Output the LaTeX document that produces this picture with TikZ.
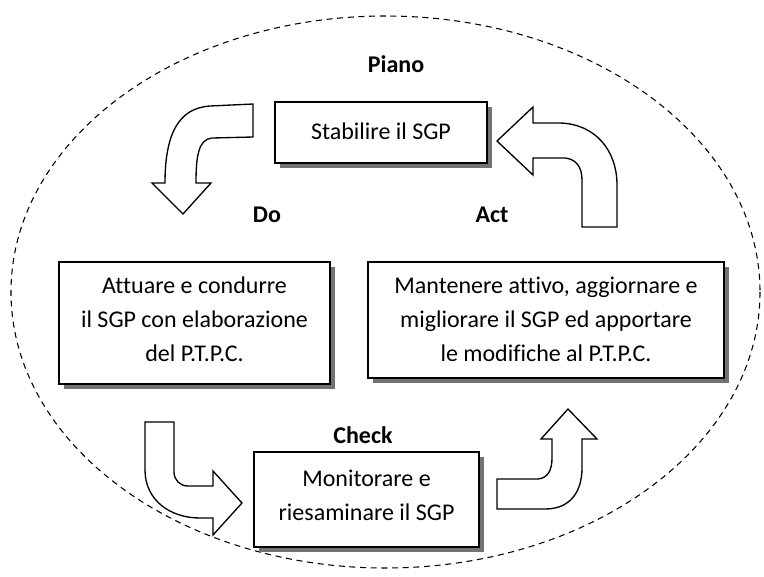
\documentclass[tikz,border=0pt]{standalone}
\usepackage{fontspec}
\setmainfont{Carlito}[Ligatures=NoCommon]
\usetikzlibrary{shadows}
\begin{document}
\begin{tikzpicture}[x=0.75pt,y=-0.75pt,
  box/.style={draw=black, line width=1.1pt, fill=white, inner sep=0pt,
    drop shadow={shadow xshift=3.5pt, shadow yshift=-3.5pt, fill=black!55, opacity=1}},
  boxtext/.style={inner sep=0pt, align=center, font=\fontsize{18}{25.5}\selectfont},
  lbl/.style={font=\fontsize{18}{22}\selectfont\bfseries, inner sep=0pt},
  blockarrow/.style={draw=black, line width=1pt, fill=white, line join=miter},
]
\useasboundingbox (0,0) rectangle (764,576);
% dashed ellipse
\draw[line width=0.8pt, dash pattern=on 4.5pt off 3.5pt] (385.5,292) ellipse [x radius=374.5, y radius=276];

% boxes
\node[box, minimum width=159pt, minimum height=45.75pt] (plan) at (381,132.5) {};
\node[boxtext] (plantext) at (381,131) {Stabilire il SGP};
\node[box, minimum width=203.25pt, minimum height=91.5pt] (do) at (194.5,323) {};
\node[boxtext] (dotext) at (194.5,319) {Attuare e condurre\\il SGP con elaborazione\\del P.T.P.C.};
\node[box, minimum width=267pt, minimum height=87pt] (act) at (546,320) {};
\node[boxtext] (acttext) at (546,319) {Mantenere attivo, aggiornare e\\migliorare il SGP ed apportare\\le modifiche al P.T.P.C.};
\node[box, minimum width=168.75pt, minimum height=71.25pt] (check) at (366.5,499.5) {};
\node[boxtext] (checktext) at (366.5,495) {Monitorare e\\riesaminare il SGP};

% labels
\node[lbl] (lpiano) at (396,64) {Piano};
\node[lbl] (ldo) at (267,215) {Do};
\node[lbl] (lact) at (492,215) {Act};
\node[lbl] (lcheck) at (363,435) {Check};

% arrow 1: Plan -> Do
\draw[blockarrow] (253,104) -- (210,106) .. controls (178,108) and (165,135) .. (165,183)
  -- (152,183) -- (183,214) -- (211,183) -- (196,183)
  .. controls (196,158) and (198,139) .. (212,138) -- (253,137) -- cycle;
% arrow 2: Act -> Plan
\draw[blockarrow] (617,227) -- (617,185) .. controls (617,150) and (595,124) .. (560,123)
  -- (533,123) -- (533,107) -- (497,141) -- (533,175) -- (533,158) -- (565,158)
  .. controls (576,159) and (582,167) .. (582,180) -- (582,227) -- cycle;
% arrow 3: Do -> Check
\draw[blockarrow] (145,422) -- (145,470) .. controls (145,500) and (170,518) .. (200,518)
  -- (213,518) -- (213,535) -- (242,503) -- (213,471) -- (213,486) -- (188,486)
  .. controls (180,486) and (174,480) .. (174,472) -- (174,422) -- cycle;
% arrow 4: Check -> Act
\draw[blockarrow] (497,479) -- (538,479) .. controls (548,478) and (552,470) .. (552,458)
  -- (552,439) -- (541,439) -- (568,409) -- (597,439) -- (582,439) -- (582,468)
  .. controls (582,492) and (570,509) .. (545,509) -- (497,509) -- cycle;
\end{tikzpicture}
\end{document}
